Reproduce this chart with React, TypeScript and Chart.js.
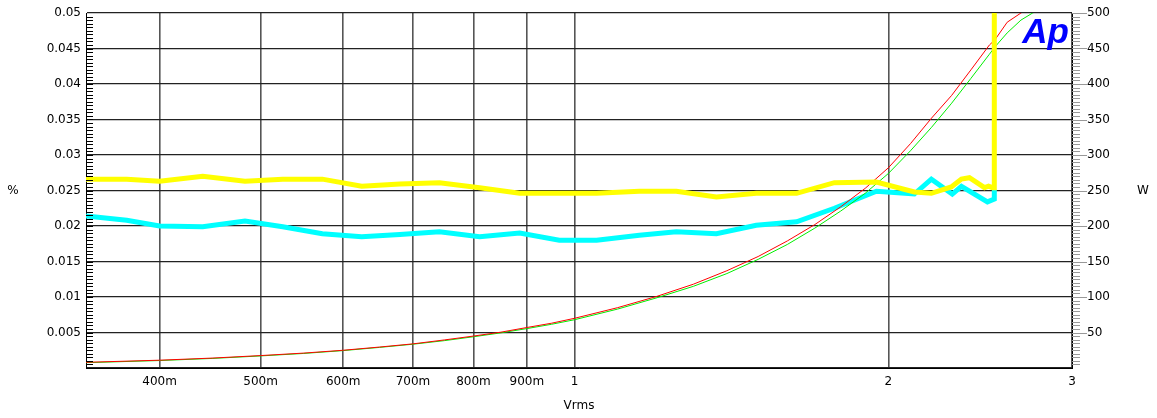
import React, { useEffect, useRef } from 'react';
import { Chart, registerables } from 'chart.js';

Chart.register(...registerables);

// THD+N (%) curves – yellow and cyan
const yellowVolts = [0.34, 0.372, 0.40, 0.44, 0.483, 0.525, 0.573, 0.625, 0.68, 0.742, 0.811, 0.886, 0.967, 1.05, 1.154, 1.252, 1.368, 1.494, 1.633, 1.775, 1.948, 2.118, 2.199, 2.298, 2.35, 2.392, 2.473, 2.495, 2.517, 2.527, 2.527];
const yellowPct = [0.0266, 0.0266, 0.0263, 0.0270, 0.0263, 0.0266, 0.0266, 0.0256, 0.0259, 0.0261, 0.0254, 0.0246, 0.0246, 0.0246, 0.0249, 0.0249, 0.0241, 0.0246, 0.0246, 0.0261, 0.0262, 0.0248, 0.0246, 0.0255, 0.0266, 0.0268, 0.0254, 0.0256, 0.0254, 0.0254, 0.06];

const cyanVolts = [0.34, 0.372, 0.40, 0.44, 0.483, 0.525, 0.573, 0.625, 0.68, 0.742, 0.811, 0.886, 0.967, 1.05, 1.154, 1.252, 1.368, 1.494, 1.633, 1.775, 1.948, 2.118, 2.199, 2.303, 2.35, 2.489, 2.527, 2.527];
const cyanPct = [0.0214, 0.0208, 0.0200, 0.0199, 0.0207, 0.0199, 0.0189, 0.0185, 0.0188, 0.0192, 0.0185, 0.0190, 0.0180, 0.0180, 0.0187, 0.0192, 0.0189, 0.0201, 0.0206, 0.0225, 0.0249, 0.0245, 0.0266, 0.0245, 0.0256, 0.0234, 0.0238, 0.0251];

// Output power (W) curves – red and green
const powerVolts = [0.34, 0.4, 0.45, 0.5, 0.55, 0.6, 0.65, 0.7, 0.75, 0.8, 0.85, 0.9, 0.95, 1.0, 1.1, 1.2, 1.3, 1.4, 1.5, 1.6, 1.7, 1.8, 1.9, 2.0, 2.1, 2.2, 2.3, 2.4, 2.5, 2.53, 2.6, 2.68, 2.75, 2.85];
const redW = [8, 11, 14, 17.5, 21, 25, 29.5, 34, 39.5, 45, 50.5, 57, 63, 70, 85, 101, 118, 137, 157, 179, 202, 227, 253, 282, 316, 352, 384, 420, 455, 462, 487, 500, 510, 520];
const greenW = [7.5, 10.5, 13.5, 17, 20.5, 24.5, 29, 33.5, 38.5, 44, 49.5, 55.5, 61.5, 68, 83, 99, 115, 133, 153, 174, 197, 221, 246, 274, 306, 339, 373, 408, 442, 452, 472, 490, 500, 510];

// Axes
const xMin = 0.34;
const xMax = 3;
const xTickValues = [0.4, 0.5, 0.6, 0.7, 0.8, 0.9, 1, 2, 3];
const xTickLabels = ['400m', '500m', '600m', '700m', '800m', '900m', '1', '2', '3'];
const pctTickValues = [0.005, 0.01, 0.015, 0.02, 0.025, 0.03, 0.035, 0.04, 0.045, 0.05];
const pctTickLabels = ['0.005', '0.01', '0.015', '0.02', '0.025', '0.03', '0.035', '0.04', '0.045', '0.05'];
const wTickValues = [50, 100, 150, 200, 250, 300, 350, 400, 450, 500];
const wTickLabels = ['50', '100', '150', '200', '250', '300', '350', '400', '450', '500'];
const pctMinorStep = 0.0005;
const wMinorStep = 5;

const FONT = "'DejaVu Sans', 'Liberation Sans', Arial, sans-serif";
const LOGO_FONT = "'Liberation Sans', Arial, sans-serif";
const FS = 12;

export default function App() {
  const canvasRef = useRef<HTMLCanvasElement | null>(null);

  useEffect(() => {
    const canvas = canvasRef.current;
    if (!canvas) return;
    const pts = (xs: number[], ys: number[]) => xs.map((x, i) => ({ x, y: ys[i] }));

    const decor = {
      id: 'decor',
      afterDraw(chart: any) {
        const { ctx, chartArea: a, scales } = chart;
        const yL = scales.yPct;
        const yR = scales.yW;
        ctx.save();
        ctx.lineWidth = 1;
        ctx.strokeStyle = '#000';
        ctx.beginPath();
        const nL = Math.round(0.05 / pctMinorStep);
        for (let i = 1; i < nL; i++) {
          const y = Math.round(yL.getPixelForValue(i * pctMinorStep)) + 0.5;
          ctx.moveTo(a.left, y);
          ctx.lineTo(a.left + 7, y);
        }
        ctx.stroke();
        ctx.strokeStyle = '#999';
        ctx.beginPath();
        const nR = Math.round(500 / wMinorStep);
        for (let i = 1; i <= nR; i++) {
          const w = i * wMinorStep;
          const y = Math.round(yR.getPixelForValue(w)) + 0.5;
          const len = i % 10 === 0 ? 15 : 8;
          ctx.moveTo(a.right, y);
          ctx.lineTo(a.right + len, y);
        }
        ctx.stroke();

        ctx.fillStyle = '#000';
        ctx.font = `${FS}px ${FONT}`;
        ctx.textAlign = 'center';
        ctx.textBaseline = 'middle';
        const midY = (a.top + a.bottom) / 2;
        ctx.fillText('%', 13, midY);
        ctx.fillText('W', 1143, midY);

        ctx.fillStyle = '#0000ff';
        ctx.font = `italic bold 35px ${LOGO_FONT}`;
        ctx.textAlign = 'right';
        ctx.textBaseline = 'alphabetic';
        ctx.fillText('Ap', a.right - 3, a.top + 30);
        ctx.restore();
      },
    };

    const chart = new Chart(canvas, {
      type: 'line',
      data: {
        datasets: [
          { label: 'THD yellow', data: pts(yellowVolts, yellowPct), yAxisID: 'yPct', borderColor: '#ffff00', borderWidth: 5, order: 0, clip: 0 },
          { label: 'Power red', data: pts(powerVolts, redW), yAxisID: 'yW', borderColor: '#ff0000', borderWidth: 1, order: 1, clip: 0 },
          { label: 'Power green', data: pts(powerVolts, greenW), yAxisID: 'yW', borderColor: '#00ee00', borderWidth: 1, order: 2, clip: 0 },
          { label: 'THD cyan', data: pts(cyanVolts, cyanPct), yAxisID: 'yPct', borderColor: '#00ffff', borderWidth: 5, order: 3, clip: 0 },
        ] as any,
      },
      options: {
        animation: false,
        responsive: true,
        maintainAspectRatio: false,
        parsing: false as any,
        layout: { padding: { top: 13, left: 0, right: 0, bottom: 0 } },
        elements: { point: { radius: 0 }, line: { tension: 0, borderCapStyle: 'butt', borderJoinStyle: 'miter' } },
        plugins: { legend: { display: false }, tooltip: { enabled: false } },
        scales: {
          x: {
            type: 'logarithmic',
            bounds: 'data',
            min: xMin,
            max: xMax,
            afterBuildTicks: (s: any) => {
              s.ticks = xTickValues.map((v) => ({ value: v }));
              s.min = xMin;
              s.max = xMax;
            },
            afterFit: (s: any) => { s.height = 50; s.paddingLeft = 0; s.paddingRight = 0; },
            ticks: {
              autoSkip: false,
              maxRotation: 0,
              padding: 7,
              color: '#000',
              font: { family: FONT, size: FS },
              callback: (_v: any, i: number) => xTickLabels[i],
            },
            grid: { color: '#555', lineWidth: 1.6, drawTicks: false },
            border: { color: '#000', width: 1 },
            title: { display: true, text: 'Vrms', color: '#000', font: { family: FONT, size: FS }, padding: { top: 0, bottom: 5 } },
          },
          yPct: {
            type: 'linear',
            position: 'left',
            min: 0,
            max: 0.05,
            afterBuildTicks: (s: any) => { s.ticks = [0, ...pctTickValues].map((v) => ({ value: v })); },
            afterFit: (s: any) => { s.width = 86; s.paddingTop = 0; s.paddingBottom = 0; },
            ticks: {
              autoSkip: false,
              padding: 5,
              color: '#000',
              font: { family: FONT, size: FS },
              callback: (_v: any, i: number) => (i === 0 ? '' : pctTickLabels[i - 1]),
            },
            grid: { color: '#222', lineWidth: 1.3, drawTicks: false },
            border: { color: '#000', width: 1 },
          },
          yW: {
            type: 'linear',
            position: 'right',
            min: 0,
            max: 500,
            afterBuildTicks: (s: any) => { s.ticks = [0, ...wTickValues].map((v) => ({ value: v })); },
            afterFit: (s: any) => { s.width = 85; s.paddingTop = 0; s.paddingBottom = 0; },
            ticks: {
              autoSkip: false,
              padding: 15,
              color: '#000',
              font: { family: FONT, size: FS },
              callback: (_v: any, i: number) => (i === 0 ? '' : wTickLabels[i - 1]),
            },
            grid: { drawOnChartArea: false, drawTicks: false },
            border: { color: '#000', width: 1 },
          },
        },
      } as any,
      plugins: [decor],
    });
    return () => chart.destroy();
  }, []);

  return (
    <div style={{ position: 'fixed', left: 0, top: 0, width: 1157, height: 418, background: '#fff' }}>
      <canvas ref={canvasRef} />
    </div>
  );
}
